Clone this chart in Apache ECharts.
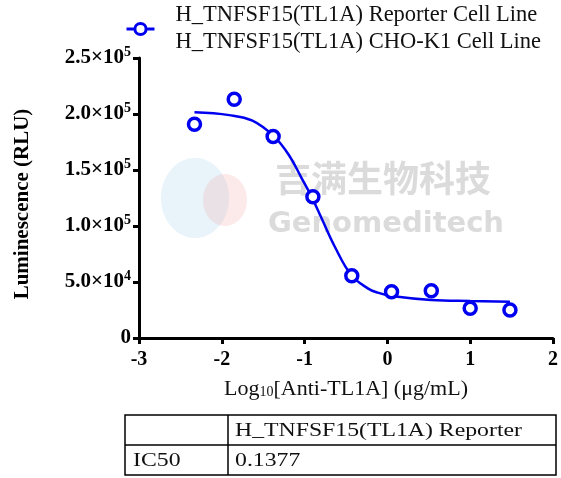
<!DOCTYPE html>
<html>
<head>
<meta charset="utf-8">
<script src="https://cdn.jsdelivr.net/npm/echarts@6/dist/echarts.min.js"></script>
<style>html,body{margin:0;padding:0;background:#fff;}#c{width:561px;height:478px;}</style>
</head>
<body>
<div id="c"></div>
<script>
// Data
var seriesName = 'H_TNFSF15(TL1A) Reporter Cell Line\nH_TNFSF15(TL1A) CHO-K1 Cell Line';
var logDose = [-2.33, -1.85, -1.38, -0.90, -0.43, 0.05, 0.53, 1.00, 1.48];
var luminescence = [190800, 213100, 180000, 126200, 55600, 41300, 42200, 26500, 25000];
// fitted curve
var curveX = [-2.33, -1.91, -1.63, -1.37, -1.19, -1.035, -0.915, -0.795, -0.635, -0.437, -0.237, -0.117, 0.05, 0.53, 1.0, 1.48];
var curveY = [201500, 199000, 194000, 180000, 163400, 142600, 126000, 106900, 81500, 56250, 44300, 40500, 37500, 34000, 33000, 32400];
var xTicks = [-3, -2, -1, 0, 1, 2];
var yTicks = [0, 50000, 100000, 150000, 200000, 250000];
var tableHeader = ['', 'H_TNFSF15(TL1A) Reporter'];
var tableRow = ['IC50', '0.1377'];

var blue = '#0000f0';
var serif = '"Liberation Serif", "Times New Roman", serif';

function yFmt(v) {
  if (v === 0) return '{b|0}';
  var e = Math.floor(Math.log10(v) + 1e-9);
  var m = v / Math.pow(10, e);
  return '{b|' + m.toFixed(1) + '×10}{s|' + e + '}';
}

function tText(str, x, y) {
  return {type: 'text', x: x, y: y, scaleX: 1.25, z: 5,
    style: {text: str, font: '19px ' + serif, fill: '#111', textVerticalAlign: 'middle'}};
}

var chart = echarts.init(document.getElementById('c'), null, {renderer: 'canvas'});
var option = {
  backgroundColor: '#fff',
  animation: false,
  grid: {left: 139, right: 4, top: 58, bottom: 140, containLabel: false},
  legend: {
    data: [seriesName],
    left: 120, top: -3,
    itemWidth: 28, itemHeight: 14, itemGap: 10,
    lineStyle: {width: 3, color: blue},
    itemStyle: {borderWidth: 3, borderColor: blue, color: '#fff'},
    textStyle: {fontFamily: serif, fontSize: 22.5, color: '#111', lineHeight: 27, padding: [0, 0, 0, 16]}
  },
  xAxis: {
    type: 'value', min: xTicks[0], max: xTicks[xTicks.length - 1], interval: 1,
    axisLine: {show: true, onZero: false, lineStyle: {color: '#000', width: 3}},
    axisTick: {show: true, length: 6, lineStyle: {color: '#000', width: 3}},
    splitLine: {show: false},
    axisLabel: {fontFamily: serif, fontSize: 20, fontWeight: 'bold', color: '#000', margin: 12},
    name: '{n|Log}{sub|10}{n|[Anti-TL1A] (μg/mL)}',
    nameLocation: 'middle', nameGap: 40,
    nameTextStyle: {
      rich: {
        n: {fontFamily: serif, fontSize: 22, color: '#111'},
        sub: {fontFamily: serif, fontSize: 14, color: '#111', padding: [6, 0, 0, 0]}
      }
    }
  },
  yAxis: {
    type: 'value', min: 0, max: 250000, interval: 50000,
    axisLine: {show: true, onZero: false, lineStyle: {color: '#000', width: 3}},
    axisTick: {show: true, length: 6, lineStyle: {color: '#000', width: 3}},
    splitLine: {show: false},
    axisLabel: {
      margin: 8, formatter: yFmt,
      rich: {
        b: {fontFamily: serif, fontSize: 21, fontWeight: 'bold', color: '#000'},
        s: {fontFamily: serif, fontSize: 14, fontWeight: 'bold', color: '#000', padding: [0, 0, 11, 0]}
      }
    },
    name: 'Luminescence (RLU)',
    nameLocation: 'middle', nameGap: 106, nameRotate: 90,
    nameTextStyle: {fontFamily: serif, fontSize: 21, fontWeight: 'bold', color: '#000', padding: [0, 0, 0, -12]}
  },
  series: [
    {
      name: seriesName, type: 'line', smooth: 0.4,
      data: curveX.map(function (x, i) { return [x, curveY[i]]; }),
      symbol: 'circle', symbolSize: 10, showSymbol: false,
      lineStyle: {color: blue, width: 2.5},
      itemStyle: {color: '#fff', borderColor: blue, borderWidth: 3},
      z: 3
    },
    {
      name: 'points', type: 'scatter',
      data: logDose.map(function (x, i) { return [x, luminescence[i]]; }),
      symbol: 'circle', symbolSize: 12,
      itemStyle: {color: '#fff', borderColor: blue, borderWidth: 3.5, opacity: 1},
      z: 4
    }
  ],
  graphic: [
    // watermark
    {type: 'text', left: 275, top: 160, z: 0, silent: true,
      style: {text: '吉满生物科技', font: 'bold 36px "Noto Sans CJK SC"', fill: 'rgba(160,160,160,0.38)'}},
    {type: 'text', left: 268, top: 210, z: 0, silent: true,
      style: {text: 'Genomeditech', font: 'bold 29px "DejaVu Sans", sans-serif', fill: 'rgba(160,160,160,0.38)'}},
    {type: 'ellipse', shape: {cx: 195, cy: 198, rx: 34, ry: 40}, z: 0, silent: true,
      style: {fill: 'rgba(130,195,225,0.18)'}},
    {type: 'ellipse', shape: {cx: 225, cy: 200, rx: 22, ry: 26}, z: 0, silent: true,
      style: {fill: 'rgba(240,150,150,0.2)'}},
    // table
    {type: 'rect', shape: {x: 125, y: 415, width: 431, height: 60}, z: 5,
      style: {fill: 'none', stroke: '#000', lineWidth: 1.5}},
    {type: 'line', shape: {x1: 125, y1: 445, x2: 556, y2: 445}, z: 5,
      style: {stroke: '#000', lineWidth: 1.5}},
    {type: 'line', shape: {x1: 228, y1: 415, x2: 228, y2: 475}, z: 5,
      style: {stroke: '#000', lineWidth: 1.5}},
    tText(tableHeader[0], 133, 431),
    tText(tableHeader[1], 235, 431),
    tText(tableRow[0], 133, 461),
    tText(tableRow[1], 235, 461)
  ]
};
chart.setOption(option);
</script>
</body>
</html>
